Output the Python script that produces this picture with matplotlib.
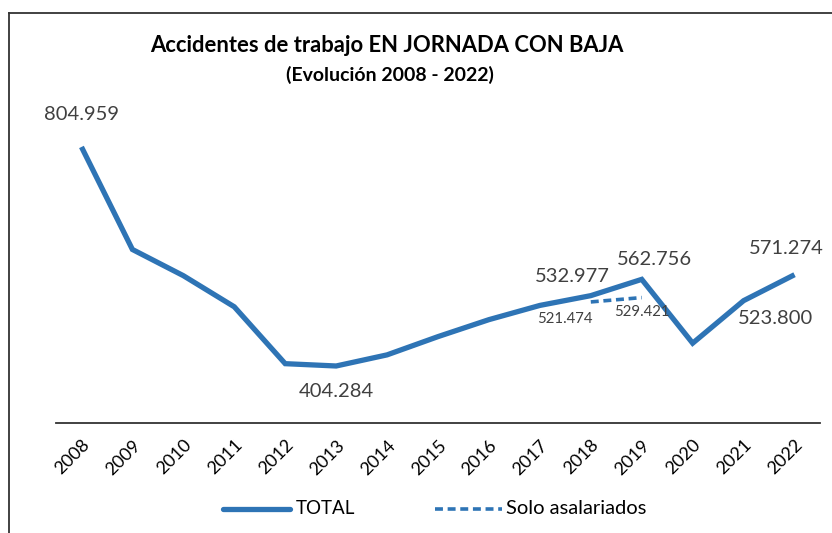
import matplotlib
matplotlib.use("Agg")
import matplotlib.pyplot as plt
from matplotlib.lines import Line2D

years = ["2008", "2009", "2010", "2011", "2012", "2013", "2014", "2015",
         "2016", "2017", "2018", "2019", "2020", "2021", "2022"]
total = [804.959, 617.440, 569.523, 512.584, 408.537, 404.284, 424.625, 458.023,
         489.065, 515.082, 532.977, 562.756, 446.0, 523.800, 571.274]
asal_years = ["2018", "2019"]
asal = [521.474, 529.421]

labeled_total = {"2008": 804.959, "2013": 404.284, "2018": 532.977,
                 "2019": 562.756, "2021": 523.800, "2022": 571.274}

BLUE = "#2E74B5"
TXT = "#404040"
FONT = ["Lato", "DejaVu Sans"]
plt.rcParams["font.family"] = FONT

fig = plt.figure(figsize=(8.32, 5.33), dpi=100)
ax = fig.add_axes([56 / 832, (533 - 423) / 533, (820 - 56) / 832, (423 - 95) / 533])

x = list(range(len(years)))
ax.plot(x, total, color=BLUE, lw=3.8, solid_joinstyle="miter", solid_capstyle="butt")
ax_idx = [years.index(y) for y in asal_years]
ax.plot(ax_idx, asal, color=BLUE, lw=2.6, ls=(0, (2.2, 1.3)))

ax.set_xlim(-0.5, len(years) - 0.5)
ax.set_ylim(300, 900)
ax.set_yticks([])
ax.set_xticks(x)
ax.set_xticklabels(years, rotation=45, ha="right", va="top", rotation_mode="anchor",
                   fontsize=13, color="black")
ax.tick_params(axis="x", length=0, pad=10)
for s in ["top", "right", "left"]:
    ax.spines[s].set_visible(False)
ax.spines["bottom"].set_color("#333333")
ax.spines["bottom"].set_linewidth(1.3)

def fmt(v):
    return f"{v:.3f}"

# data labels (offsets in points)
offsets = {"2008": (0, 17, "center", "bottom"),
           "2013": (0, -12, "center", "top"),
           "2018": (-13, 8, "center", "bottom"),
           "2019": (9, 8, "center", "bottom"),
           "2021": (23, -7, "center", "top"),
           "2022": (-6, 13, "center", "bottom")}
for yr, v in labeled_total.items():
    dx, dy, ha, va = offsets[yr]
    ax.annotate(fmt(v), (years.index(yr), v), xytext=(dx, dy), textcoords="offset points",
                ha=ha, va=va, fontsize=14.5, color=TXT)

small_off = {"2018": (-19, -7), "2019": (0, -5)}
for yr, v in zip(asal_years, asal):
    dx, dy = small_off[yr]
    ax.annotate(fmt(v), (years.index(yr), v), xytext=(dx, dy), textcoords="offset points",
                ha="center", va="top", fontsize=10.8, color=TXT)

fig.text(387 / 832, 1 - 46 / 533, "Accidentes de trabajo EN JORNADA CON BAJA",
         ha="center", va="center", fontsize=15.8, fontweight="bold", color="black")
fig.text(390 / 832, 1 - 75 / 533, "(Evolución 2008 - 2022)",
         ha="center", va="center", fontsize=14, fontweight="bold", color="black")

# border (cropped frame)
fig.add_artist(Line2D([9 / 832, 1.0], [1 - 13 / 533, 1 - 13 / 533], color="#333333",
                      lw=1.3, transform=fig.transFigure))
fig.add_artist(Line2D([9 / 832, 9 / 832], [0, 1 - 13 / 533], color="#333333",
                      lw=1.3, transform=fig.transFigure))

# legend
ly = 1 - 509 / 533
fig.add_artist(Line2D([223 / 832, 290 / 832], [ly, ly], color=BLUE, lw=3.8,
                      solid_capstyle="round", transform=fig.transFigure))
fig.text(296 / 832, ly, "TOTAL", ha="left", va="center", fontsize=13.5, color="black")
fig.add_artist(Line2D([435 / 832, 502 / 832], [ly, ly], color=BLUE, lw=2.6,
                      ls=(0, (2.2, 1.3)), transform=fig.transFigure))
fig.text(506 / 832, ly, "Solo asalariados", ha="left", va="center", fontsize=14.5, color="black")

fig.savefig("out.png", dpi=100, facecolor="white")
